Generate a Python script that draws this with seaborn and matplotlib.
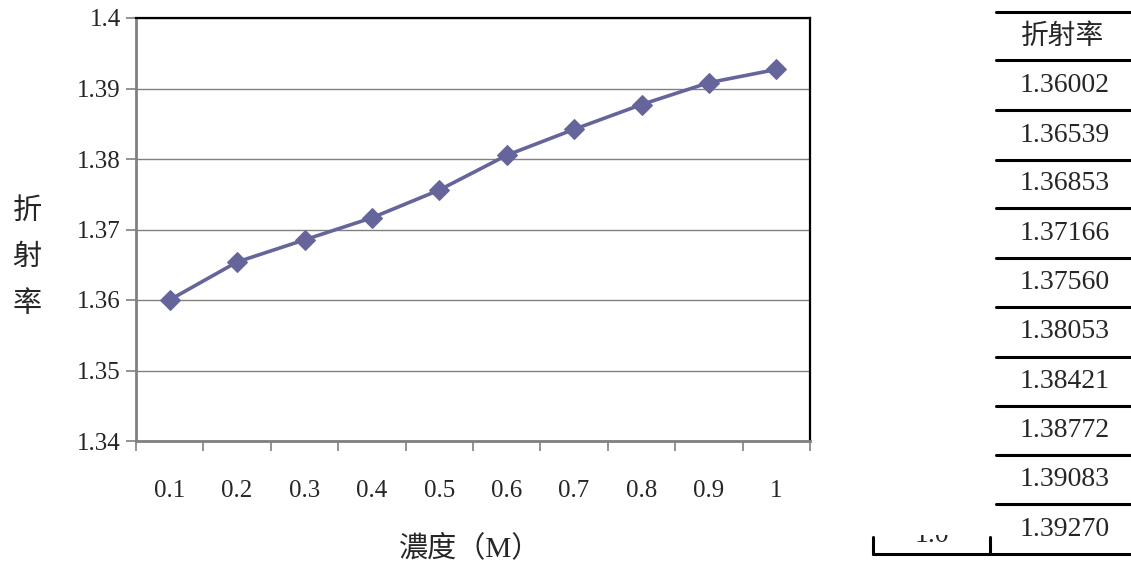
import matplotlib
matplotlib.use("Agg")
import matplotlib.pyplot as plt
import numpy as np
import pandas as pd
import seaborn as sns
from matplotlib.transforms import Bbox

sns.set_theme(style="white")
plt.rcParams["font.family"] = ["Liberation Serif", "Noto Sans CJK TC"]

# concentration (M) and refractive index
conc_labels = ["0.1", "0.2", "0.3", "0.4", "0.5", "0.6", "0.7", "0.8", "0.9", "1"]
refr_index = [1.36002, 1.36539, 1.36853, 1.37166, 1.37560,
              1.38053, 1.38421, 1.38772, 1.39083, 1.39270]
table_values = ["1.36002", "1.36539", "1.36853", "1.37166", "1.37560",
                "1.38053", "1.38421", "1.38772", "1.39083", "1.39270"]
y_ticks = [1.34, 1.35, 1.36, 1.37, 1.38, 1.39, 1.4]
y_ticklabels = ["1.34", "1.35", "1.36", "1.37", "1.38", "1.39", "1.4"]

df = pd.DataFrame({"pos": np.arange(len(conc_labels)), "n": refr_index})

W, H = 1131, 564
fig = plt.figure(figsize=(W / 100, H / 100), dpi=100)
ax = fig.add_axes([136 / W, 1 - 441 / H, (810 - 136) / W, (441 - 18) / H])

line_col = "#65659b"
sns.lineplot(data=df, x="pos", y="n", ax=ax, color=line_col, linewidth=2.6,
             marker="D", markersize=10, markeredgecolor=line_col)

ax.set_xlim(-0.5, len(conc_labels) - 0.5)
ax.set_ylim(1.34, 1.4)
ax.set_yticks(y_ticks)
ax.set_yticklabels(y_ticklabels, fontsize=18)
ax.set_xticks(np.arange(-0.5, len(conc_labels)))
ax.set_xticklabels([])
ax.set_xticks(np.arange(len(conc_labels)), minor=True)
ax.set_xticklabels(conc_labels, minor=True, fontsize=18)
ax.tick_params(axis="x", which="major", direction="out", length=7, width=1.2,
               color="#808080", bottom=True)
ax.tick_params(axis="x", which="minor", length=0, pad=28, bottom=True)
ax.tick_params(axis="y", direction="out", length=7, width=1.2, color="#808080",
               left=True, pad=4)
ax.grid(axis="y", color="#808080", linewidth=1)
ax.set_axisbelow(True)
for s in ["left", "bottom"]:
    ax.spines[s].set_color("#808080")
    ax.spines[s].set_linewidth(2)
for s in ["top", "right"]:
    ax.spines[s].set_color("black")
    ax.spines[s].set_linewidth(1.6)
ax.set_xlabel("")
ax.set_ylabel("")

fig.text(470 / W, 1 - 548 / H, "濃度（M）", fontsize=21, ha="center", va="center")
fig.text(27 / W, 1 - 258 / H, "折\n射\n率", fontsize=21, ha="center", va="center",
         linespacing=1.95)

# table on the right
row_lines = [12, 60, 110, 160, 208, 258, 307, 357, 406, 455, 504, 554]
for yl in row_lines:
    x0 = 873 if yl == row_lines[-1] else 996
    fig.add_artist(plt.Line2D([x0 / W, 1.0], [1 - yl / H, 1 - yl / H],
                              color="black", linewidth=2.2))
for xv in [873, 990]:
    fig.add_artist(plt.Line2D([xv / W, xv / W], [1 - 537 / H, 1 - 554 / H],
                              color="black", linewidth=2.2))
fig.text(1063 / W, 1 - 37 / H, "折射率", fontsize=20, ha="center", va="center")
for i, v in enumerate(table_values):
    yc = (row_lines[i + 1] + row_lines[i + 2]) / 2
    fig.text(1065 / W, 1 - yc / H, v, fontsize=20, ha="center", va="center")

# clipped cell text at the bottom left of the table
t = fig.text(932 / W, 1 - 542 / H, "1.0", fontsize=20, ha="center", va="baseline")
t.set_clip_box(Bbox.from_extents(870, 564 - 552, 990, 564 - 535))
t.set_clip_on(True)

fig.savefig("out.png", dpi=100)
